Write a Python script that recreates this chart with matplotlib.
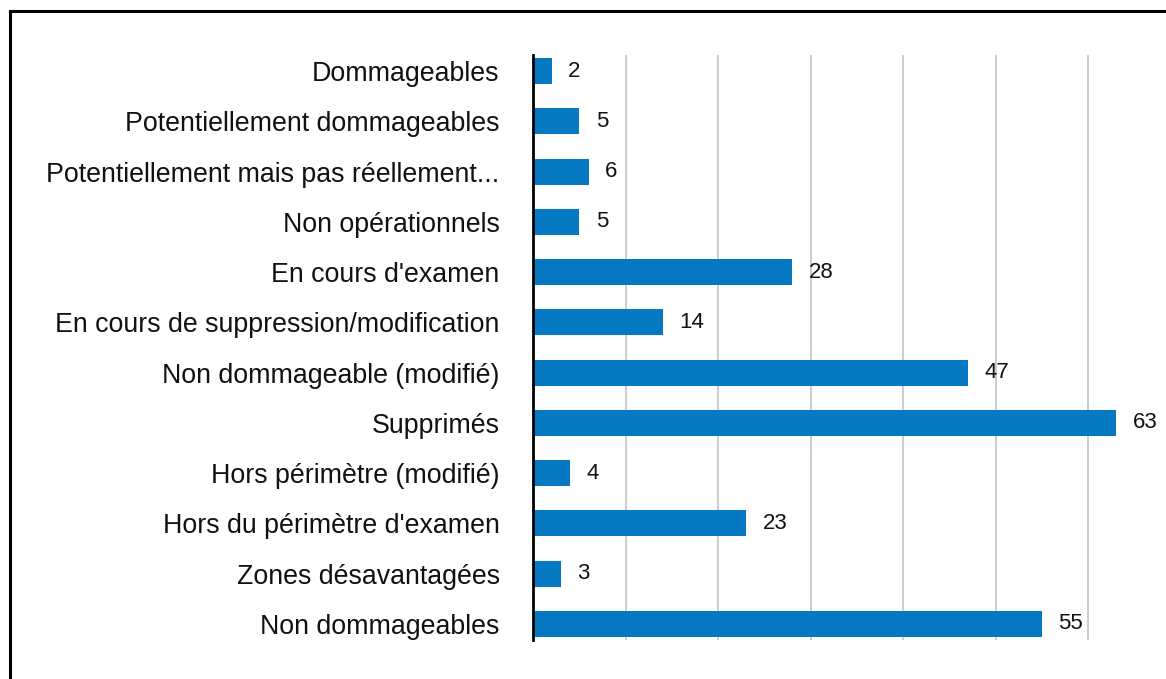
import matplotlib
matplotlib.use("Agg")
import matplotlib.pyplot as plt
from matplotlib.lines import Line2D

categories = [
    "Dommageables",
    "Potentiellement dommageables",
    "Potentiellement mais pas réellement...",
    "Non opérationnels",
    "En cours d'examen",
    "En cours de suppression/modification",
    "Non dommageable (modifié)",
    "Supprimés",
    "Hors périmètre (modifié)",
    "Hors du périmètre d'examen",
    "Zones désavantagées",
    "Non dommageables",
]
values = [2, 5, 6, 5, 28, 14, 47, 63, 4, 23, 3, 55]

W, H = 1166, 679
fig = plt.figure(figsize=(W / 100, H / 100), dpi=100)
plt.rcParams['font.family'] = ['Liberation Sans', 'DejaVu Sans']

left_px, right_px, top_px, bot_px = 533, 1166, 55, 640
ax = fig.add_axes([left_px / W, (H - bot_px) / H, (right_px - left_px) / W, (bot_px - top_px) / H])

ypos = list(range(len(categories)))
bar_color = '#0679C2'
ax.barh(ypos, values, height=0.52, color=bar_color, zorder=3)

for y, v in zip(ypos, values):
    ax.annotate(str(v), xy=(v, y), xytext=(12, 0), textcoords='offset points',
                ha='left', va='center', fontsize=16, color='#111111', zorder=4)

ax.set_xlim(0, (right_px - left_px) / 9.25)
ax.set_ylim(len(categories) - 1 + 0.32, -0.32)
ax.set_yticks(ypos)
ax.set_yticklabels(categories, fontsize=19.3, color='#111111')
ax.tick_params(axis='y', length=0, pad=24)
ax.set_xticks([10, 20, 30, 40, 50, 60])
ax.tick_params(axis='x', length=0, labelbottom=False)
ax.grid(axis='x', color='#c8c8c8', linewidth=1.3, zorder=0)
for s in ['top', 'right', 'bottom']:
    ax.spines[s].set_visible(False)
ax.spines['left'].set_color('black')
ax.spines['left'].set_linewidth(2)
ax.spines['left'].set_zorder(5)

# outer frame (top and left edges only visible in reference)
fig.add_artist(Line2D([10 / W, 1], [1 - 11 / H, 1 - 11 / H], transform=fig.transFigure,
                      color='black', linewidth=2.2))
fig.add_artist(Line2D([10 / W, 10 / W], [0, 1 - 11 / H], transform=fig.transFigure,
                      color='black', linewidth=2.2))

fig.savefig('out.png', dpi=100, facecolor='white')
